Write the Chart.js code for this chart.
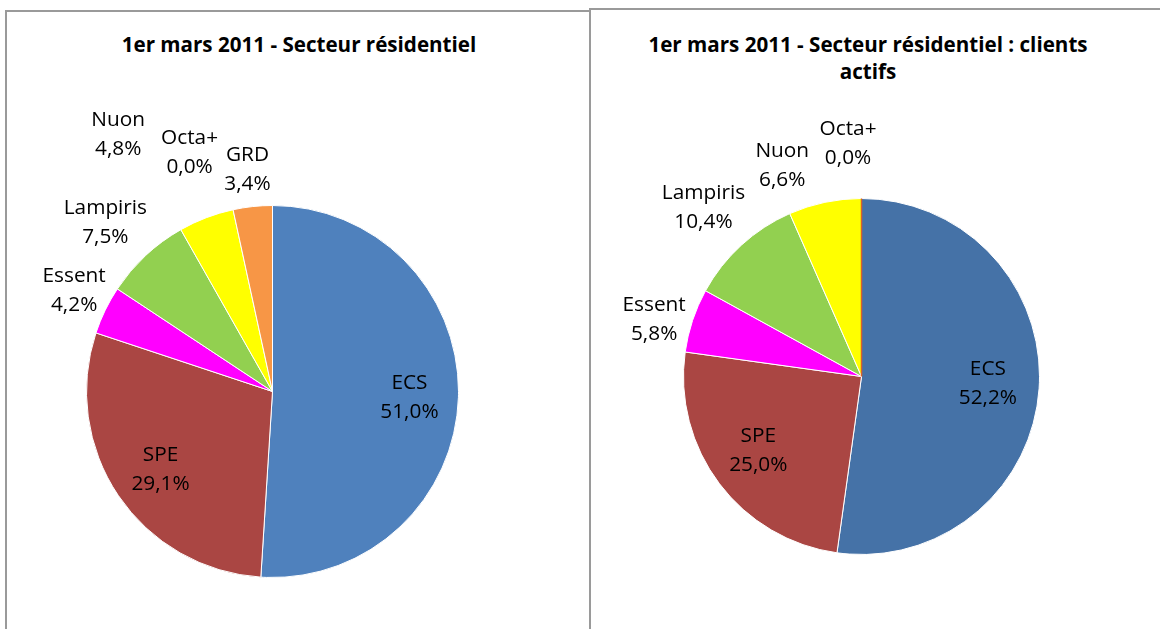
<!DOCTYPE html>
<html lang="fr">
<head>
  <meta charset="UTF-8">
  <title>1er mars 2011 - Secteur résidentiel</title>
  <script src="https://cdn.jsdelivr.net/npm/chart.js"></script>
  <style>
    body {
      margin: 0;
      width: 1160px;
      height: 629px;
      overflow: hidden;
      background: #fff;
      position: relative;
      font-family: 'Open Sans', sans-serif;
    }
    .frame {
      position: absolute;
      border: 2px solid #9a9a9a;
      border-bottom: none;
      box-sizing: border-box;
      height: 640px;
    }
    #frameLeft { left: 5px; top: 10px; width: 586px; }
    #frameRight { left: 589px; top: 8px; width: 600px; }
    .title {
      position: absolute;
      top: 31px;
      font-weight: bold;
      font-size: 20.6px;
      line-height: 27px;
      text-align: center;
      color: #000;
    }
    #titleLeft { left: 0; width: 598px; }
    #titleRight { left: 588px; width: 560px; }
    canvas { position: absolute; top: 0; }
    #chartLeft { left: 0; }
    #chartRight { left: 590px; }
  </style>
</head>
<body>
  <div class="frame" id="frameLeft"></div>
  <div class="frame" id="frameRight"></div>
  <div class="title" id="titleLeft">1er mars 2011 - Secteur résidentiel</div>
  <div class="title" id="titleRight">1er mars 2011 - Secteur résidentiel : clients<br>actifs</div>
  <canvas id="chartLeft" width="590" height="629"></canvas>
  <canvas id="chartRight" width="570" height="629"></canvas>

  <script>
    // Left chart: all residential customers
    const leftLabels = ['ECS', 'SPE', 'Essent', 'Lampiris', 'Nuon', 'Octa+', 'GRD'];
    const leftValues = [51.0, 29.1, 4.2, 7.5, 4.8, 0.0, 3.4];
    const leftColors = ['#4F81BD', '#AA4643', '#FF00FF', '#92D050', '#FFFF00', '#E46C0A', '#F79646'];

    // Right chart: active customers
    const rightLabels = ['ECS', 'SPE', 'Essent', 'Lampiris', 'Nuon', 'Octa+'];
    const rightValues = [52.2, 25.0, 5.8, 10.4, 6.6, 0.0];
    const rightColors = ['#4572A7', '#AA4643', '#FF00FF', '#92D050', '#FFFF00', '#E46C0A'];

    // label placement per slice: [radius factor, angle nudge in degrees]
    const leftPlacement = [[0.737, 0.7], [0.734, -0.9], [1.197, 1.1], [1.277, -1.7], [1.612, -10.1], [1.36, -6.9], [1.201, -0.3]];
    const rightPlacement = [[0.711, -0.8], [0.714, 1.4], [1.208, -3.0], [1.30, -0.6], [1.267, -8.7], [1.313, -3.3]];

    const fmt = v => v.toFixed(1).replace('.', ',') + '%';

    // Draws "name / value%" labels like Excel data labels
    const sliceLabels = {
      id: 'sliceLabels',
      afterDatasetsDraw(chart, args, opts) {
        const ctx = chart.ctx;
        const meta = chart.getDatasetMeta(0);
        const data = chart.data.datasets[0].data;
        const labels = chart.data.labels;
        ctx.save();
        meta.data.forEach((arc, i) => {
          const p = arc.getProps(['x', 'y', 'startAngle', 'endAngle', 'outerRadius'], true);
          if (data[i] === 0 && opts.zeroLine) {
            ctx.strokeStyle = opts.zeroLine;
            ctx.lineWidth = 1.5;
            ctx.beginPath();
            ctx.moveTo(p.x, p.y);
            ctx.lineTo(p.x + Math.cos(p.startAngle) * p.outerRadius, p.y + Math.sin(p.startAngle) * p.outerRadius);
            ctx.stroke();
          }
        });
        ctx.font = '20.8px "Open Sans"';
        ctx.fillStyle = '#000';
        ctx.textAlign = 'center';
        ctx.textBaseline = 'middle';
        meta.data.forEach((arc, i) => {
          const p = arc.getProps(['x', 'y', 'startAngle', 'endAngle', 'outerRadius'], true);
          const [k, nudge] = opts.place[i];
          const a = (p.startAngle + p.endAngle) / 2 + nudge * Math.PI / 180;
          const lx = p.x + Math.cos(a) * p.outerRadius * k;
          const ly = p.y + Math.sin(a) * p.outerRadius * k;
          ctx.fillText(labels[i], lx, ly - 14.5);
          ctx.fillText(fmt(data[i]), lx, ly + 14.5);
        });
        ctx.restore();
      }
    };

    function makePie(id, labels, values, colors, placement, padding, zeroLine) {
      return new Chart(document.getElementById(id), {
        type: 'pie',
        data: {
          labels: labels,
          datasets: [{
            data: values,
            backgroundColor: colors,
            borderColor: '#ffffff',
            borderWidth: 1
          }]
        },
        options: {
          responsive: false,
          animation: false,
          layout: { padding: padding },
          plugins: {
            legend: { display: false },
            tooltip: { enabled: false },
            sliceLabels: { place: placement, zeroLine: zeroLine }
          }
        },
        plugins: [sliceLabels]
      });
    }

    makePie('chartLeft', leftLabels, leftValues, leftColors, leftPlacement,
      { left: 86, right: 131, top: 205, bottom: 51 }, null);
    makePie('chartRight', rightLabels, rightValues, rightColors, rightPlacement,
      { left: 93, right: 120, top: 198, bottom: 74 }, '#D9622B');
  </script>
</body>
</html>
